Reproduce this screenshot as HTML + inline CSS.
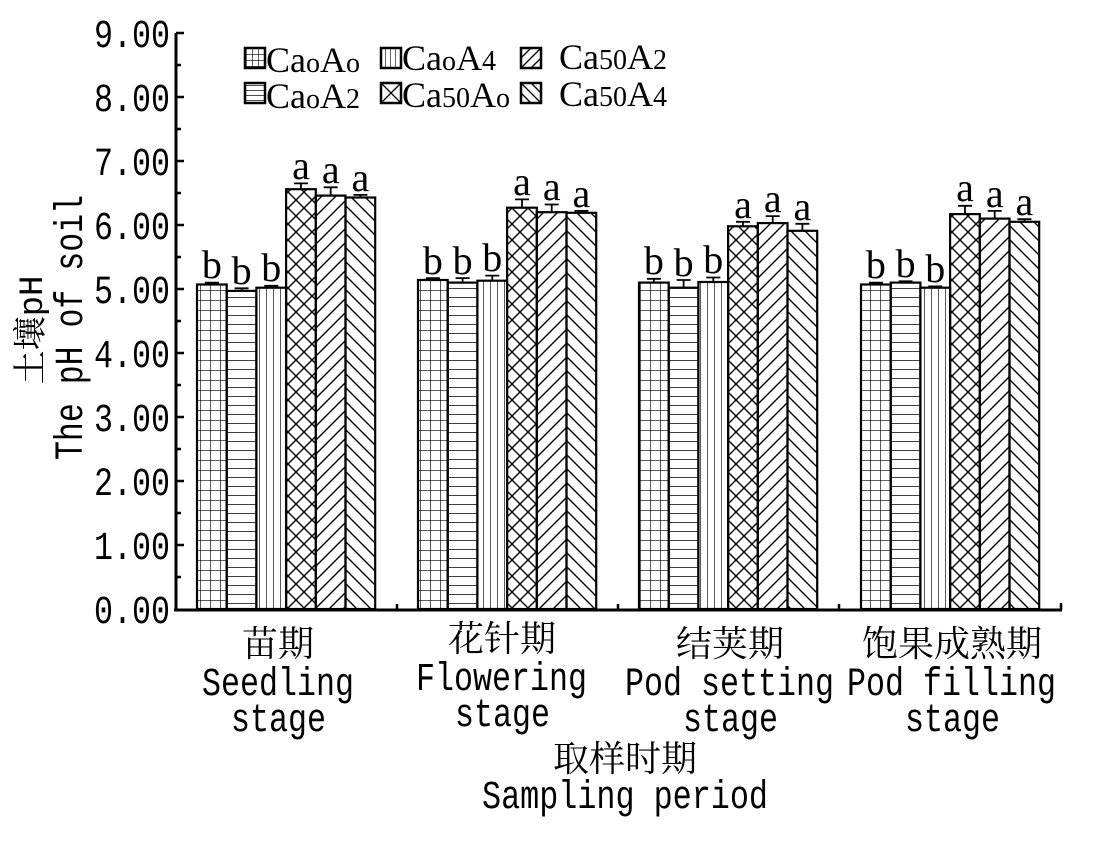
<!DOCTYPE html>
<html><head><meta charset="utf-8"><style>body{margin:0;background:#fff}svg{display:block}</style></head><body>
<svg width="1102" height="841" viewBox="0 0 1102 841" xmlns="http://www.w3.org/2000/svg">
<defs>
<pattern id="p0" patternUnits="userSpaceOnUse" width="10" height="10"><path d="M0 0H10M0 0V10" stroke="#000" stroke-width="1.3"/></pattern>
<pattern id="p1" patternUnits="userSpaceOnUse" width="10" height="9"><path d="M0 0H10" stroke="#000" stroke-width="1.5"/></pattern>
<pattern id="p2" patternUnits="userSpaceOnUse" width="7" height="10"><path d="M0 0V10" stroke="#000" stroke-width="1.3"/></pattern>
<pattern id="p3" patternUnits="userSpaceOnUse" width="16" height="16"><path d="M0 0L16 16M16 0L0 16" stroke="#000" stroke-width="1.4"/></pattern>
<pattern id="p4" patternUnits="userSpaceOnUse" width="14" height="14"><path d="M-1 15L15 -1M-1 1L1 -1M13 15L15 13" stroke="#000" stroke-width="1.4"/></pattern>
<pattern id="p5" patternUnits="userSpaceOnUse" width="14" height="14"><path d="M-1 -1L15 15M13 -1L15 1M-1 13L1 15" stroke="#000" stroke-width="1.4"/></pattern>
<pattern id="l2" patternUnits="userSpaceOnUse" width="5" height="10"><path d="M0 0V10" stroke="#000" stroke-width="1.2"/></pattern>
<pattern id="l1" patternUnits="userSpaceOnUse" width="10" height="5"><path d="M0 0H10" stroke="#000" stroke-width="1.4"/></pattern>
<pattern id="l0" patternUnits="userSpaceOnUse" width="6" height="6"><path d="M0 0H6M0 0V6" stroke="#000" stroke-width="1.2"/></pattern>
</defs>
<g stroke="#000" stroke-width="2.2">
<rect x="197" y="284.5" width="29.7" height="324.5" fill="url(#p0)"/>
<rect x="226.7" y="290.9" width="29.7" height="318.1" fill="url(#p1)"/>
<rect x="256.4" y="287.7" width="29.7" height="321.3" fill="url(#p2)"/>
<rect x="286.1" y="189.2" width="29.7" height="419.8" fill="url(#p3)"/>
<rect x="315.8" y="195.6" width="29.7" height="413.4" fill="url(#p4)"/>
<rect x="345.5" y="197.5" width="29.7" height="411.5" fill="url(#p5)"/>
<rect x="418" y="280" width="29.7" height="329" fill="url(#p0)"/>
<rect x="447.7" y="282.6" width="29.7" height="326.4" fill="url(#p1)"/>
<rect x="477.4" y="280.7" width="29.7" height="328.3" fill="url(#p2)"/>
<rect x="507.1" y="207.7" width="29.7" height="401.3" fill="url(#p3)"/>
<rect x="536.8" y="212.2" width="29.7" height="396.8" fill="url(#p4)"/>
<rect x="566.5" y="212.8" width="29.7" height="396.2" fill="url(#p5)"/>
<rect x="639" y="282.6" width="29.7" height="326.4" fill="url(#p0)"/>
<rect x="668.7" y="287.7" width="29.7" height="321.3" fill="url(#p1)"/>
<rect x="698.4" y="282" width="29.7" height="327" fill="url(#p2)"/>
<rect x="728.1" y="226.3" width="29.7" height="382.7" fill="url(#p3)"/>
<rect x="757.8" y="223.1" width="29.7" height="385.9" fill="url(#p4)"/>
<rect x="787.5" y="230.8" width="29.7" height="378.2" fill="url(#p5)"/>
<rect x="861" y="284.5" width="29.7" height="324.5" fill="url(#p0)"/>
<rect x="890.7" y="282.6" width="29.7" height="326.4" fill="url(#p1)"/>
<rect x="920.4" y="287.7" width="29.7" height="321.3" fill="url(#p2)"/>
<rect x="950.1" y="214.1" width="29.7" height="394.9" fill="url(#p3)"/>
<rect x="979.8" y="218.6" width="29.7" height="390.4" fill="url(#p4)"/>
<rect x="1009.5" y="221.8" width="29.7" height="387.2" fill="url(#p5)"/>
</g>
<g stroke="#000" stroke-width="1.8" fill="none">
<path d="M211.9 284.5V282.6M204.9 282.6H218.9M241.6 290.9V288.3M234.6 288.3H248.6M271.3 287.7V285.8M264.3 285.8H278.3M301 189.2V183.4M294 183.4H308M330.7 195.6V187.3M323.7 187.3H337.7M360.4 197.5V194.9M353.4 194.9H367.4"/>
<path d="M432.9 280V278.1M425.9 278.1H439.9M462.6 282.6V278.1M455.6 278.1H469.6M492.3 280.7V275.6M485.3 275.6H499.3M522 207.7V199.4M515 199.4H529M551.7 212.2V204.5M544.7 204.5H558.7M581.4 212.8V210.9M574.4 210.9H588.4"/>
<path d="M653.9 282.6V278.8M646.9 278.8H660.9M683.6 287.7V280M676.6 280H690.6M713.3 282V277.5M706.3 277.5H720.3M743 226.3V221.8M736 221.8H750M772.7 223.1V216.1M765.7 216.1H779.7M802.4 230.8V223.8M795.4 223.8H809.4"/>
<path d="M875.9 284.5V282.6M868.9 282.6H882.9M905.6 282.6V281.3M898.6 281.3H912.6M935.3 287.7V286.4M928.3 286.4H942.3M965 214.1V205.8M958 205.8H972M994.7 218.6V210.9M987.7 210.9H1001.7M1024.4 221.8V219.2M1017.4 219.2H1031.4"/>
</g>
<g font-family="Liberation Serif, serif" font-size="40" text-anchor="middle">
<text x="211.9" y="278">b</text><text x="241.6" y="284">b</text><text x="271.3" y="281">b</text><text x="301" y="179">a</text><text x="330.7" y="183">a</text><text x="360.4" y="191">a</text>
<text x="432.9" y="274">b</text><text x="462.6" y="274">b</text><text x="492.3" y="271">b</text><text x="522" y="195">a</text><text x="551.7" y="200">a</text><text x="581.4" y="207">a</text>
<text x="653.9" y="274">b</text><text x="683.6" y="276">b</text><text x="713.3" y="273">b</text><text x="743" y="218">a</text><text x="772.7" y="212">a</text><text x="802.4" y="220">a</text>
<text x="875.9" y="278">b</text><text x="905.6" y="277">b</text><text x="935.3" y="282">b</text><text x="965" y="201">a</text><text x="994.7" y="207">a</text><text x="1024.4" y="215">a</text>
</g>
<path d="M176 33V610M174 610H1062" stroke="#000" stroke-width="3" fill="none"/>
<g stroke="#000" stroke-width="2.5">
<path d="M176 33h8M176 97h8M176 161h8M176 225h8M176 289h8M176 353h8M176 417h8M176 481h8M176 545h8"/>
<path d="M176 65h5M176 129h5M176 193h5M176 257h5M176 321h5M176 385h5M176 449h5M176 513h5M176 577h5"/>
<path d="M397 610v-6M618 610v-6M839 610v-6M1061 610v-7"/>
</g>
<g font-family="Liberation Mono, monospace" font-size="40" lengthAdjust="spacingAndGlyphs">
<text x="94" y="47" textLength="76" lengthAdjust="spacingAndGlyphs">9.00</text><text x="94" y="111" textLength="76" lengthAdjust="spacingAndGlyphs">8.00</text><text x="94" y="175" textLength="76" lengthAdjust="spacingAndGlyphs">7.00</text>
<text x="94" y="239" textLength="76" lengthAdjust="spacingAndGlyphs">6.00</text><text x="94" y="303" textLength="76" lengthAdjust="spacingAndGlyphs">5.00</text><text x="94" y="367" textLength="76" lengthAdjust="spacingAndGlyphs">4.00</text>
<text x="94" y="431" textLength="76" lengthAdjust="spacingAndGlyphs">3.00</text><text x="94" y="495" textLength="76" lengthAdjust="spacingAndGlyphs">2.00</text><text x="94" y="559" textLength="76" lengthAdjust="spacingAndGlyphs">1.00</text>
<text x="94" y="623" textLength="76" lengthAdjust="spacingAndGlyphs">0.00</text>
</g>
<g font-family="Liberation Mono, monospace" font-size="40">
<text x="202" y="695" textLength="152" lengthAdjust="spacingAndGlyphs">Seedling</text>
<text x="231" y="731" textLength="95" lengthAdjust="spacingAndGlyphs">stage</text>
<text x="416" y="690" textLength="171" lengthAdjust="spacingAndGlyphs">Flowering</text>
<text x="455" y="726" textLength="95" lengthAdjust="spacingAndGlyphs">stage</text>
<text x="625" y="695" textLength="209" lengthAdjust="spacingAndGlyphs">Pod setting</text>
<text x="683" y="731" textLength="95" lengthAdjust="spacingAndGlyphs">stage</text>
<text x="847" y="695" textLength="209" lengthAdjust="spacingAndGlyphs">Pod filling</text>
<text x="905" y="731" textLength="95" lengthAdjust="spacingAndGlyphs">stage</text>
<text x="482" y="808" textLength="286" lengthAdjust="spacingAndGlyphs">Sampling period</text>
<text transform="translate(82,460) rotate(-90)" textLength="265" lengthAdjust="spacingAndGlyphs">The pH of soil</text>
</g>
<g font-family="Liberation Mono, Noto Serif CJK SC, monospace" font-size="36" text-anchor="middle">
<text transform="translate(42,330) rotate(-90)" font-size="34">土壤pH</text>
<text x="278" y="656">苗期</text><text x="502" y="651">花针期</text><text x="730" y="656">结荚期</text><text x="952" y="656">饱果成熟期</text><text x="625" y="771">取样时期</text>
</g>
<g stroke="#000" stroke-width="2.5">
<rect x="245" y="48" width="20" height="20" fill="url(#l0)"/>
<rect x="245" y="83" width="20" height="20" fill="url(#l1)"/>
<rect x="381" y="48" width="20" height="20" fill="url(#l2)"/>
<rect x="381" y="83" width="20" height="20" fill="none"/>
<path d="M381 83L401 103M401 83L381 103" stroke-width="1.3"/>
<rect x="521" y="48" width="20" height="20" fill="none"/>
<path d="M521 68L541 48M521 58L531 48M531 68L541 58" stroke-width="1.3"/>
<rect x="521" y="83" width="20" height="20" fill="none"/>
<path d="M521 83L541 103M531 83L541 93M521 93L531 103" stroke-width="1.3"/>
</g>
<g font-family="Liberation Serif, serif" font-size="36">
<text x="266" y="72">Ca<tspan font-size="28">o</tspan>A<tspan font-size="28">o</tspan></text>
<text x="266" y="108">Ca<tspan font-size="28">o</tspan>A<tspan font-size="28">2</tspan></text>
<text x="402" y="70">Ca<tspan font-size="28">o</tspan>A<tspan font-size="28">4</tspan></text>
<text x="402" y="107">Ca<tspan font-size="28">50</tspan>A<tspan font-size="28">o</tspan></text>
<text x="559" y="69">Ca<tspan font-size="28">50</tspan>A<tspan font-size="28">2</tspan></text>
<text x="559" y="106">Ca<tspan font-size="28">50</tspan>A<tspan font-size="28">4</tspan></text>
</g>
</svg>
</body></html>
